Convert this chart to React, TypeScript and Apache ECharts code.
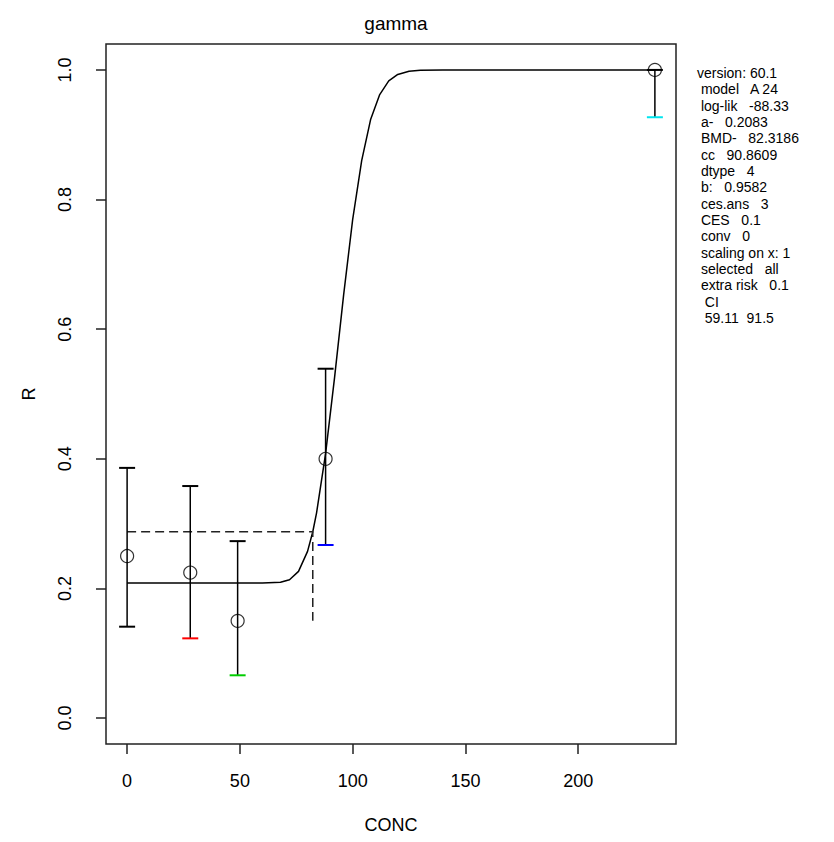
import React, { useEffect, useRef } from "react";
import * as echarts from "echarts";

const doseX = [0, 28, 49, 88, 234];
const respY = [0.25, 0.2245, 0.15, 0.4, 1.0];
const ciLow = [0.141, 0.123, 0.066, 0.267, 0.927];
const ciHigh = [0.386, 0.358, 0.273, 0.539, 1.0];
const capColors = ["#000000", "#ff0000", "#00cd00", "#0000ff", "#00e5ee"];

const curveX = [0, 60, 68, 72, 76, 80, 82.32, 84, 88, 92, 96, 100, 104, 108, 112, 116, 120, 125, 130, 140, 234];
const curveY = [0.2083, 0.2083, 0.2095, 0.2135, 0.2264, 0.2572, 0.2875, 0.3166, 0.408, 0.526, 0.653, 0.769, 0.86, 0.924, 0.962, 0.983, 0.993, 0.998, 0.9995, 1.0, 1.0];

const bmdX = [0, 82.32, 82.32];
const bmdY = [0.2875, 0.2875, 0.15];

const xTicks = [0, 50, 100, 150, 200];
const yTicks = [0, 0.2, 0.4, 0.6, 0.8, 1.0];

const infoLines = [
  "version: 60.1",
  " model   A 24",
  " log-lik   -88.33",
  " a-   0.2083",
  " BMD-   82.3186",
  " cc   90.8609",
  " dtype   4",
  " b:   0.9582",
  " ces.ans   3",
  " CES   0.1",
  " conv   0",
  " scaling on x: 1",
  " selected   all",
  " extra risk   0.1",
  "  CI",
  "  59.11  91.5",
];

const FONT = "Liberation Sans, Arial, Helvetica, sans-serif";

export default function App() {
  const ref = useRef<HTMLDivElement>(null);
  useEffect(() => {
    if (!ref.current) return;
    const chart = echarts.init(ref.current, undefined, { renderer: "svg" });
    const option: any = {
      animation: false,
      backgroundColor: "#ffffff",
      title: {
        text: "gamma",
        left: 391,
        top: 9,
        textAlign: "center",
        textStyle: { fontFamily: FONT, fontSize: 19, fontWeight: "normal", color: "#000" },
      },
      grid: {
        left: 106,
        top: 44,
        width: 570,
        height: 700,
        show: true,
        borderColor: "#222",
        borderWidth: 1.5,
        backgroundColor: "transparent",
      },
      xAxis: {
        type: "value",
        min: -9.36,
        max: 243.36,
        name: "CONC",
        nameLocation: "middle",
        nameGap: 72,
        nameTextStyle: { fontFamily: FONT, fontSize: 18, color: "#000" },
        axisLine: { show: false, onZero: false },
        splitLine: { show: false },
        axisTick: { show: true, length: 10, inside: false, customValues: xTicks, lineStyle: { color: "#222", width: 1.5 } },
        axisLabel: {
          customValues: xTicks,
          margin: 28,
          fontFamily: FONT,
          fontSize: 18,
          color: "#000",
          formatter: (v: number) => String(v),
        },
      },
      yAxis: {
        type: "value",
        min: -0.04,
        max: 1.04,
        name: "R",
        nameLocation: "middle",
        nameGap: 68,
        nameRotate: 90,
        nameTextStyle: { fontFamily: FONT, fontSize: 18, color: "#000" },
        axisLine: { show: false, onZero: false },
        splitLine: { show: false },
        axisTick: { show: true, length: 10, inside: false, customValues: yTicks, lineStyle: { color: "#222", width: 1.5 } },
        axisLabel: {
          customValues: yTicks,
          rotate: 90,
          margin: 32,
          fontFamily: FONT,
          fontSize: 18,
          color: "#000",
          formatter: (v: number) => v.toFixed(1),
        },
      },
      graphic: [
        {
          type: "text",
          left: 697,
          top: 65,
          style: {
            text: infoLines.join("\n"),
            font: "14px " + FONT,
            lineHeight: 16.33,
            fill: "#000",
          },
        },
      ],
      series: [
        {
          type: "line",
          data: curveX.map((x, i) => [x, curveY[i]]),
          showSymbol: false,
          lineStyle: { color: "#000", width: 1.5 },
          z: 2,
        },
        {
          type: "line",
          data: bmdX.map((x, i) => [x, bmdY[i]]),
          showSymbol: false,
          lineStyle: { color: "#222", width: 1.5, type: [9, 5] },
          z: 2,
        },
        {
          type: "custom",
          data: doseX.map((x, i) => [x, ciLow[i], ciHigh[i]]),
          renderItem: (params: any, api: any) => {
            const x = api.value(0);
            const pLo = api.coord([x, api.value(1)]);
            const pHi = api.coord([x, api.value(2)]);
            const w = 8;
            return {
              type: "group",
              children: [
                { type: "line", shape: { x1: pLo[0], y1: pLo[1], x2: pHi[0], y2: pHi[1] }, style: { stroke: "#000", lineWidth: 1.5 } },
                { type: "line", shape: { x1: pHi[0] - w, y1: pHi[1], x2: pHi[0] + w, y2: pHi[1] }, style: { stroke: "#000", lineWidth: 2 } },
                { type: "line", shape: { x1: pLo[0] - w, y1: pLo[1], x2: pLo[0] + w, y2: pLo[1] }, style: { stroke: capColors[params.dataIndex], lineWidth: 2 } },
              ],
            };
          },
          z: 3,
        },
        {
          type: "scatter",
          data: doseX.map((x, i) => [x, respY[i]]),
          symbol: "circle",
          symbolSize: 13,
          itemStyle: { color: "rgba(255,255,255,0)", borderColor: "#000", borderWidth: 1.2 },
          z: 4,
        },
      ],
    };
    chart.setOption(option);
    return () => chart.dispose();
  }, []);
  return <div ref={ref} style={{ position: "absolute", left: 0, top: 0, width: 834, height: 842, background: "#fff" }} />;
}
